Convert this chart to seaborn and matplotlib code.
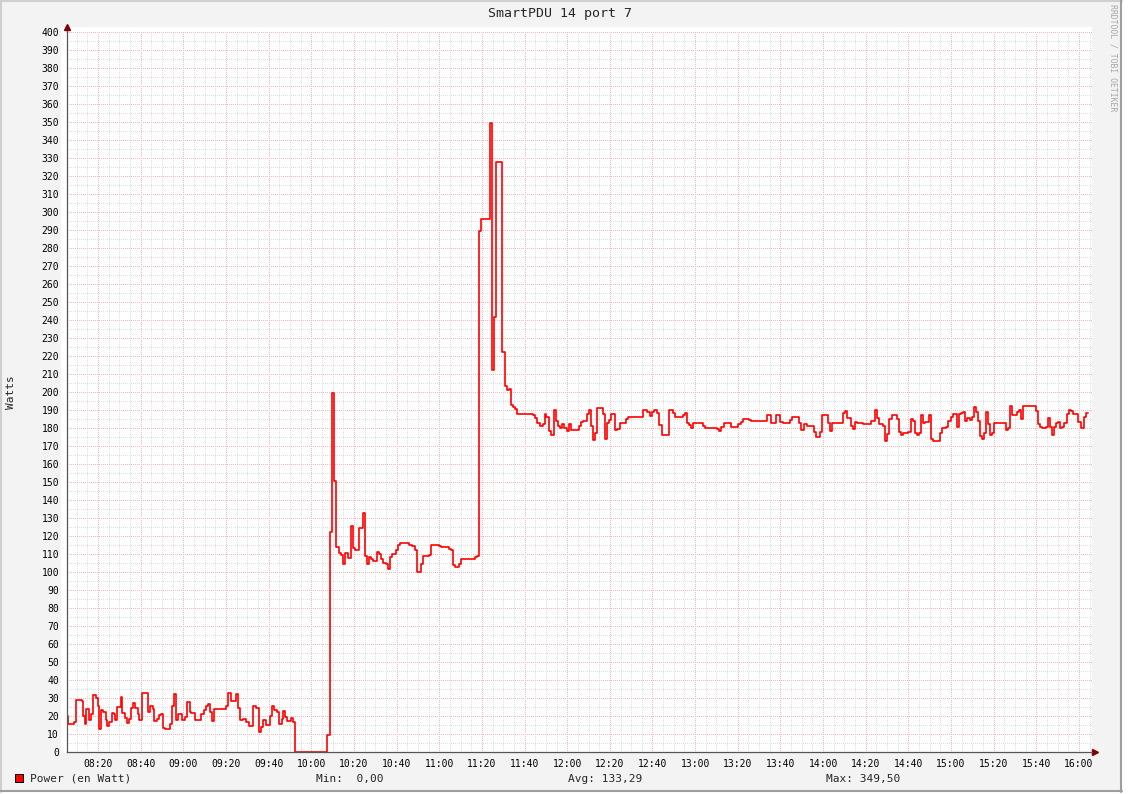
import numpy as np
import pandas as pd
import matplotlib
matplotlib.use('Agg')
import matplotlib.pyplot as plt
import matplotlib.dates as mdates
from matplotlib.ticker import MultipleLocator
from matplotlib.patches import Rectangle
from matplotlib.lines import Line2D
import seaborn as sns

#%% data: step change points, minutes after 08:00 -> watts (held until next point)
t_morning = [5.3, 5.8, 8.7, 9.8, 12.4, 13.0, 13.8, 14.5, 15.9, 16.9,
             17.8, 19.1, 20.0, 20.6, 21.5, 22.5, 23.6, 24.4, 25.3, 26.4,
             27.5, 28.1, 29.1, 30.6, 31.4, 32.5, 33.5, 34.4, 35.6, 36.6,
             37.4, 38.8, 39.4, 40.8, 43.6, 44.5, 45.7, 46.4, 47.5, 48.6,
             49.5, 50.5, 51.6, 53.9, 54.7, 55.5, 56.6, 57.7, 59.5, 60.8,
             61.9, 63.0, 63.7, 65.6, 68.4, 69.6, 70.6, 71.6, 72.7, 73.6,
             74.5, 79.9, 80.8, 82.5, 84.7, 85.8, 86.7, 87.9, 89.3, 90.9,
             92.8, 94.1, 95.5, 96.4, 97.5, 98.9, 100.7, 101.7, 102.7, 103.8,
             104.7, 106.1, 106.9, 107.8, 108.6, 110.6, 111.6, 112.5, 127.4]
w_morning = [20, 16, 16.7, 29, 28.5, 20, 16, 24, 17.8, 21.3,
             31.7, 30, 26, 12.8, 23.3, 22.6, 17.8, 14.4, 16.7, 21.9,
             21.3, 18, 25, 31, 21.9, 18.9, 16.3, 18.3, 24.4, 27.2,
             24.4, 21.3, 17.8, 32.8, 22.2, 25.6, 24, 17.6, 18.7, 20.7,
             21.3, 13.3, 13, 16, 26, 32.2, 17.8, 21.3, 17.8, 19.4,
             28.1, 22.2, 21.7, 17.8, 21.3, 23.5, 25.6, 26.7, 22.6, 17.4,
             24, 26, 32.8, 28.3, 32.2, 24.4, 17.8, 18.7, 16.7, 14.4,
             25.6, 24.4, 11.1, 13.9, 18, 15, 20, 26, 23.3, 22.2,
             16, 18.3, 22.8, 19.4, 17.2, 18.9, 16.7, 0, 9.4]

t_ramp = [128.9, 129.7, 130.8, 131.7, 132.9, 133.8, 134.7, 136.0, 137.1, 138.8,
          139.7, 140.7, 142.5, 144.1, 145.1, 146.0, 146.9, 147.9, 148.8, 151.0,
          151.9, 152.8, 153.8, 155.1, 156.0, 156.9, 157.9, 159.7, 160.8, 161.6,
          165.7, 167.2, 168.8, 169.7, 171.6, 172.5, 175.1, 176.0, 179.8, 181.0,
          184.7, 185.7, 186.6, 187.5, 189.1, 190.1, 196.9, 197.9, 198.8, 199.7,
          204.0, 204.9, 205.8, 206.8, 209.6, 211.0, 211.9, 212.9, 213.8, 214.7,
          215.7, 216.6, 223.8, 224.8, 226.0]
w_ramp = [122.2, 199.4, 150.9, 113.9, 110.6, 109.6, 104.6, 111, 107.8, 126,
          113.3, 112.2, 124.4, 132.8, 109.3, 104.4, 108.7, 107.6, 106.1, 111.5,
          110.2, 107.4, 105, 104.4, 101.7, 108.3, 110.2, 112.4, 115, 116.1,
          115.4, 114.8, 112.6, 100, 104.6, 109.1, 109.6, 115, 114.4, 113.9,
          113.1, 112.4, 104.3, 102.8, 104.4, 107.2, 108.3, 109.1, 289.4, 296.3,
          349.5, 212.4, 241.7, 327.8, 222.2, 203.5, 201.3, 201.7, 193.1, 192,
          190.9, 188, 187.2, 185.5, 182.8]

t_noon = [227.3, 228.5, 229.5, 230.1, 231.3, 232.3, 233.8, 234.8, 235.7, 236.6,
          237.6, 238.5, 239.8, 241.0, 241.9, 245.7, 246.6, 247.6, 249.4, 250.4,
          251.3, 252.0, 252.9, 253.8, 256.9, 257.9, 258.8, 259.8, 260.7, 262.6,
          263.5, 264.8, 267.6, 268.5, 275.7, 277.6, 278.8, 279.8, 280.7, 282.0,
          282.9, 284.5, 287.9, 289.5, 290.4, 294.5, 295.4, 296.0, 297.0, 297.9,
          298.9, 303.8, 304.5, 310.1, 311.1, 312.3, 313.5, 316.7, 320.1, 321.7,
          322.6, 325.4, 326.3, 333.8, 335.7, 337.9, 339.8, 341.3, 344.5, 345.4,
          348.8, 349.8, 351.1, 352.6, 355.7, 356.7, 358.6, 359.5, 362.3]
w_noon = [181.3, 182.4, 187.8, 186.3, 178.7, 176.3, 190, 183.9, 181.5, 180.4,
          182.4, 180, 178.7, 182.2, 178.9, 181.3, 183.3, 183.9, 187.8, 190,
          181.3, 173.3, 177.2, 191.1, 187.8, 173.9, 182.8, 184.4, 187.8, 179.1,
          179.8, 182.8, 185, 186.3, 190, 188.9, 186.9, 189.3, 190, 188.3,
          181.7, 176.3, 190, 188.7, 186.3, 187.2, 188.5, 182.8, 181.7, 180,
          182.8, 181.3, 180, 179.4, 178.7, 180.6, 183, 180.9, 182.2, 183.5,
          185, 184.4, 183.9, 187.4, 183, 187.4, 183.3, 182.8, 184.4, 186.1,
          182.8, 178.9, 182.6, 181.3, 177.8, 175.4, 177.8, 187.2, 182.8]

t_pm = [363.2, 364.0, 369.2, 370.1, 371.1, 372.9, 373.9, 374.8, 376.0, 378.9,
        382.6, 384.2, 385.1, 386.1, 388.0, 388.9, 389.8, 391.0, 392.3, 394.8,
        395.7, 396.7, 397.6, 398.6, 399.8, 401.1, 402.0, 403.0, 403.9, 404.8,
        406.1, 407.0, 407.9, 409.8, 410.7, 411.7, 414.8, 415.8, 417.6, 418.6,
        419.8, 421.1, 422.9, 423.9, 424.8, 425.7, 426.7, 427.6, 428.9, 429.8,
        430.8, 431.7, 432.6, 433.6, 434.5, 435.5, 436.4, 437.3, 438.3, 439.2,
        440.1, 445.8, 446.7, 447.6, 448.6, 451.1, 452.0, 452.9, 453.9, 459.8,
        460.8, 461.7, 462.7, 464.5, 465.5, 466.4, 467.3, 468.3, 469.2, 470.2,
        471.1, 472.0, 473.0, 474.2, 475.2, 476.1, 477.0, 479.5, 481.1, 482.3,
        483.3, 484.2]
w_pm = [178.7, 182.8, 188.3, 189.4, 185.6, 181.3, 179.4, 183.5, 182.8, 182.2,
        183.9, 190, 185.6, 182.2, 181.3, 172.8, 176.7, 185, 187.2, 185,
        178.1, 176.1, 177.2, 177.6, 178.1, 185, 183.9, 177.6, 176.1, 177.6,
        187.2, 182.8, 183.3, 187.2, 174.3, 172.8, 177.2, 180, 180.9, 183.9,
        186.1, 187.8, 180.7, 187.8, 188.3, 188.9, 183.9, 185.6, 184.4, 186.1,
        191.7, 188.9, 183.9, 175.6, 173.9, 177.2, 188.9, 182.2, 176.1, 177.2,
        182.8, 178.9, 180, 192.2, 187.2, 188.9, 190, 185, 192.2, 189.4,
        182.2, 180.7, 180, 180.7, 185.6, 180.7, 176.1, 180.6, 182.8, 183.3,
        180.4, 180.6, 182.8, 188, 190, 189.4, 187.8, 183.3, 180, 186.1,
        188.3, 188.3]

# legend line, values as printed by rrdtool
legend_name = 'Power (en Watt)'
gprint_labels = ['Min:  0,00', 'Avg: 133,29', 'Max: 349,50']
title = 'SmartPDU 14 port 7'

#%% build dataframe
minutes = t_morning + t_ramp + t_noon + t_pm
watts = w_morning + w_ramp + w_noon + w_pm
assert len(minutes) == len(watts)

base = pd.Timestamp('2024-01-01 08:00')
df = pd.DataFrame({'time': base + pd.to_timedelta(minutes, unit='min'), 'watts': watts})

#%% figure (pixel helpers for a 1129x794 canvas)
W, H = 1129, 794
def fx(px):
    return px / W
def fy(py):
    return 1 - py / H

sns.set_style('white')
plt.rcParams['font.family'] = ['DejaVu Sans Mono']

fig = plt.figure(figsize=(W / 100, H / 100), dpi=100, facecolor='white')

# rrdtool background + shaded frame
fig.add_artist(Rectangle((0, fy(792)), fx(1122), 792 / H, transform=fig.transFigure,
                         facecolor='#f3f3f3', edgecolor='none', zorder=-10))
fig.add_artist(Rectangle((fx(61.5), fy(752.5)), fx(1092) - fx(61.5), (752.5 - 27) / H,
                         transform=fig.transFigure, facecolor='white', edgecolor='none', zorder=-9))
fig.add_artist(Line2D([0, fx(1122)], [fy(1), fy(1)], color='#cfcfcf', lw=1.5, transform=fig.transFigure))
fig.add_artist(Line2D([fx(1), fx(1)], [fy(0), fy(792)], color='#cfcfcf', lw=1.5, transform=fig.transFigure))
fig.add_artist(Line2D([0, fx(1122)], [fy(791), fy(791)], color='#9e9e9e', lw=1.5, transform=fig.transFigure))
fig.add_artist(Line2D([fx(1121), fx(1121)], [fy(0), fy(792)], color='#9e9e9e', lw=1.5, transform=fig.transFigure))

ax = fig.add_axes([fx(66.7), fy(752.3), fx(1092) - fx(66.7), 720 / H])
ax.set_facecolor('white')

sns.lineplot(data=df, x='time', y='watts', drawstyle='steps-post', color='#ff0000',
             linewidth=1.2, estimator=None, sort=False, ax=ax)

ax.set_xlim(base + pd.Timedelta(minutes=5.3), base + pd.Timedelta(minutes=486.1))
ax.set_ylim(0, 400)

ax.xaxis.set_major_locator(mdates.MinuteLocator(byminute=[0, 20, 40]))
ax.xaxis.set_minor_locator(mdates.MinuteLocator(byminute=range(0, 60, 5)))
ax.xaxis.set_major_formatter(mdates.DateFormatter('%H:%M'))
ax.yaxis.set_major_locator(MultipleLocator(10))
ax.yaxis.set_minor_locator(MultipleLocator(5))

# dotted grid, crisp like rrdtool
dots = (0, (1, 1.6))
ax.grid(which='minor', color='#e0e0e0', linestyle=dots, linewidth=0.72, antialiased=False)
ax.grid(which='major', color='#f6baba', linestyle=dots, linewidth=0.72, antialiased=False)
ax.set_axisbelow(True)

ax.tick_params(which='major', length=3, width=0.72, color='#f6baba', labelsize=7,
               labelcolor='black', pad=2.5)
ax.tick_params(which='minor', length=2, width=0.72, color='#e0e0e0')
ax.tick_params(axis='x', which='major', pad=2)

for side in ['top', 'right']:
    ax.spines[side].set_visible(False)
for side in ['left', 'bottom']:
    ax.spines[side].set_color('#555555')
    ax.spines[side].set_linewidth(0.9)

ax.set_xlabel('')
ax.set_ylabel('')

# axis arrows
ax.add_line(Line2D([0, 0], [1, 1.004], color='#555555', lw=0.9, transform=ax.transAxes, clip_on=False))
ax.add_line(Line2D([1, 1.0012], [0, 0], color='#555555', lw=0.9, transform=ax.transAxes, clip_on=False))
ax.plot([0], [1.0067], marker='^', ms=4, color='#7f0000', transform=ax.transAxes, clip_on=False)
ax.plot([1.0034], [0], marker='>', ms=4, color='#7f0000', transform=ax.transAxes, clip_on=False)

#%% texts
fig.text(fx(560), fy(17.3), title, ha='center', va='baseline', fontsize=9.5)
fig.text(fx(11), fy(392), 'Watts', rotation=90, ha='center', va='center', fontsize=8)
fig.text(fx(1113.5), fy(4), 'RRDTOOL / TOBI OETIKER', rotation=270, ha='center', va='top',
         fontsize=5.9, color='#a6a6a6')

fig.add_artist(Rectangle((fx(15), fy(781.5)), 8 / W, 8 / H, transform=fig.transFigure,
                         facecolor='#ff0000', edgecolor='black', lw=0.72))
fig.text(fx(30.5), fy(781.7), legend_name, va='baseline', fontsize=8)
for xpos, label in zip([316, 568, 825.7], gprint_labels):
    fig.text(fx(xpos), fy(781.7), label, va='baseline', fontsize=8)

fig.savefig('out.png', dpi=100, facecolor=fig.get_facecolor())
